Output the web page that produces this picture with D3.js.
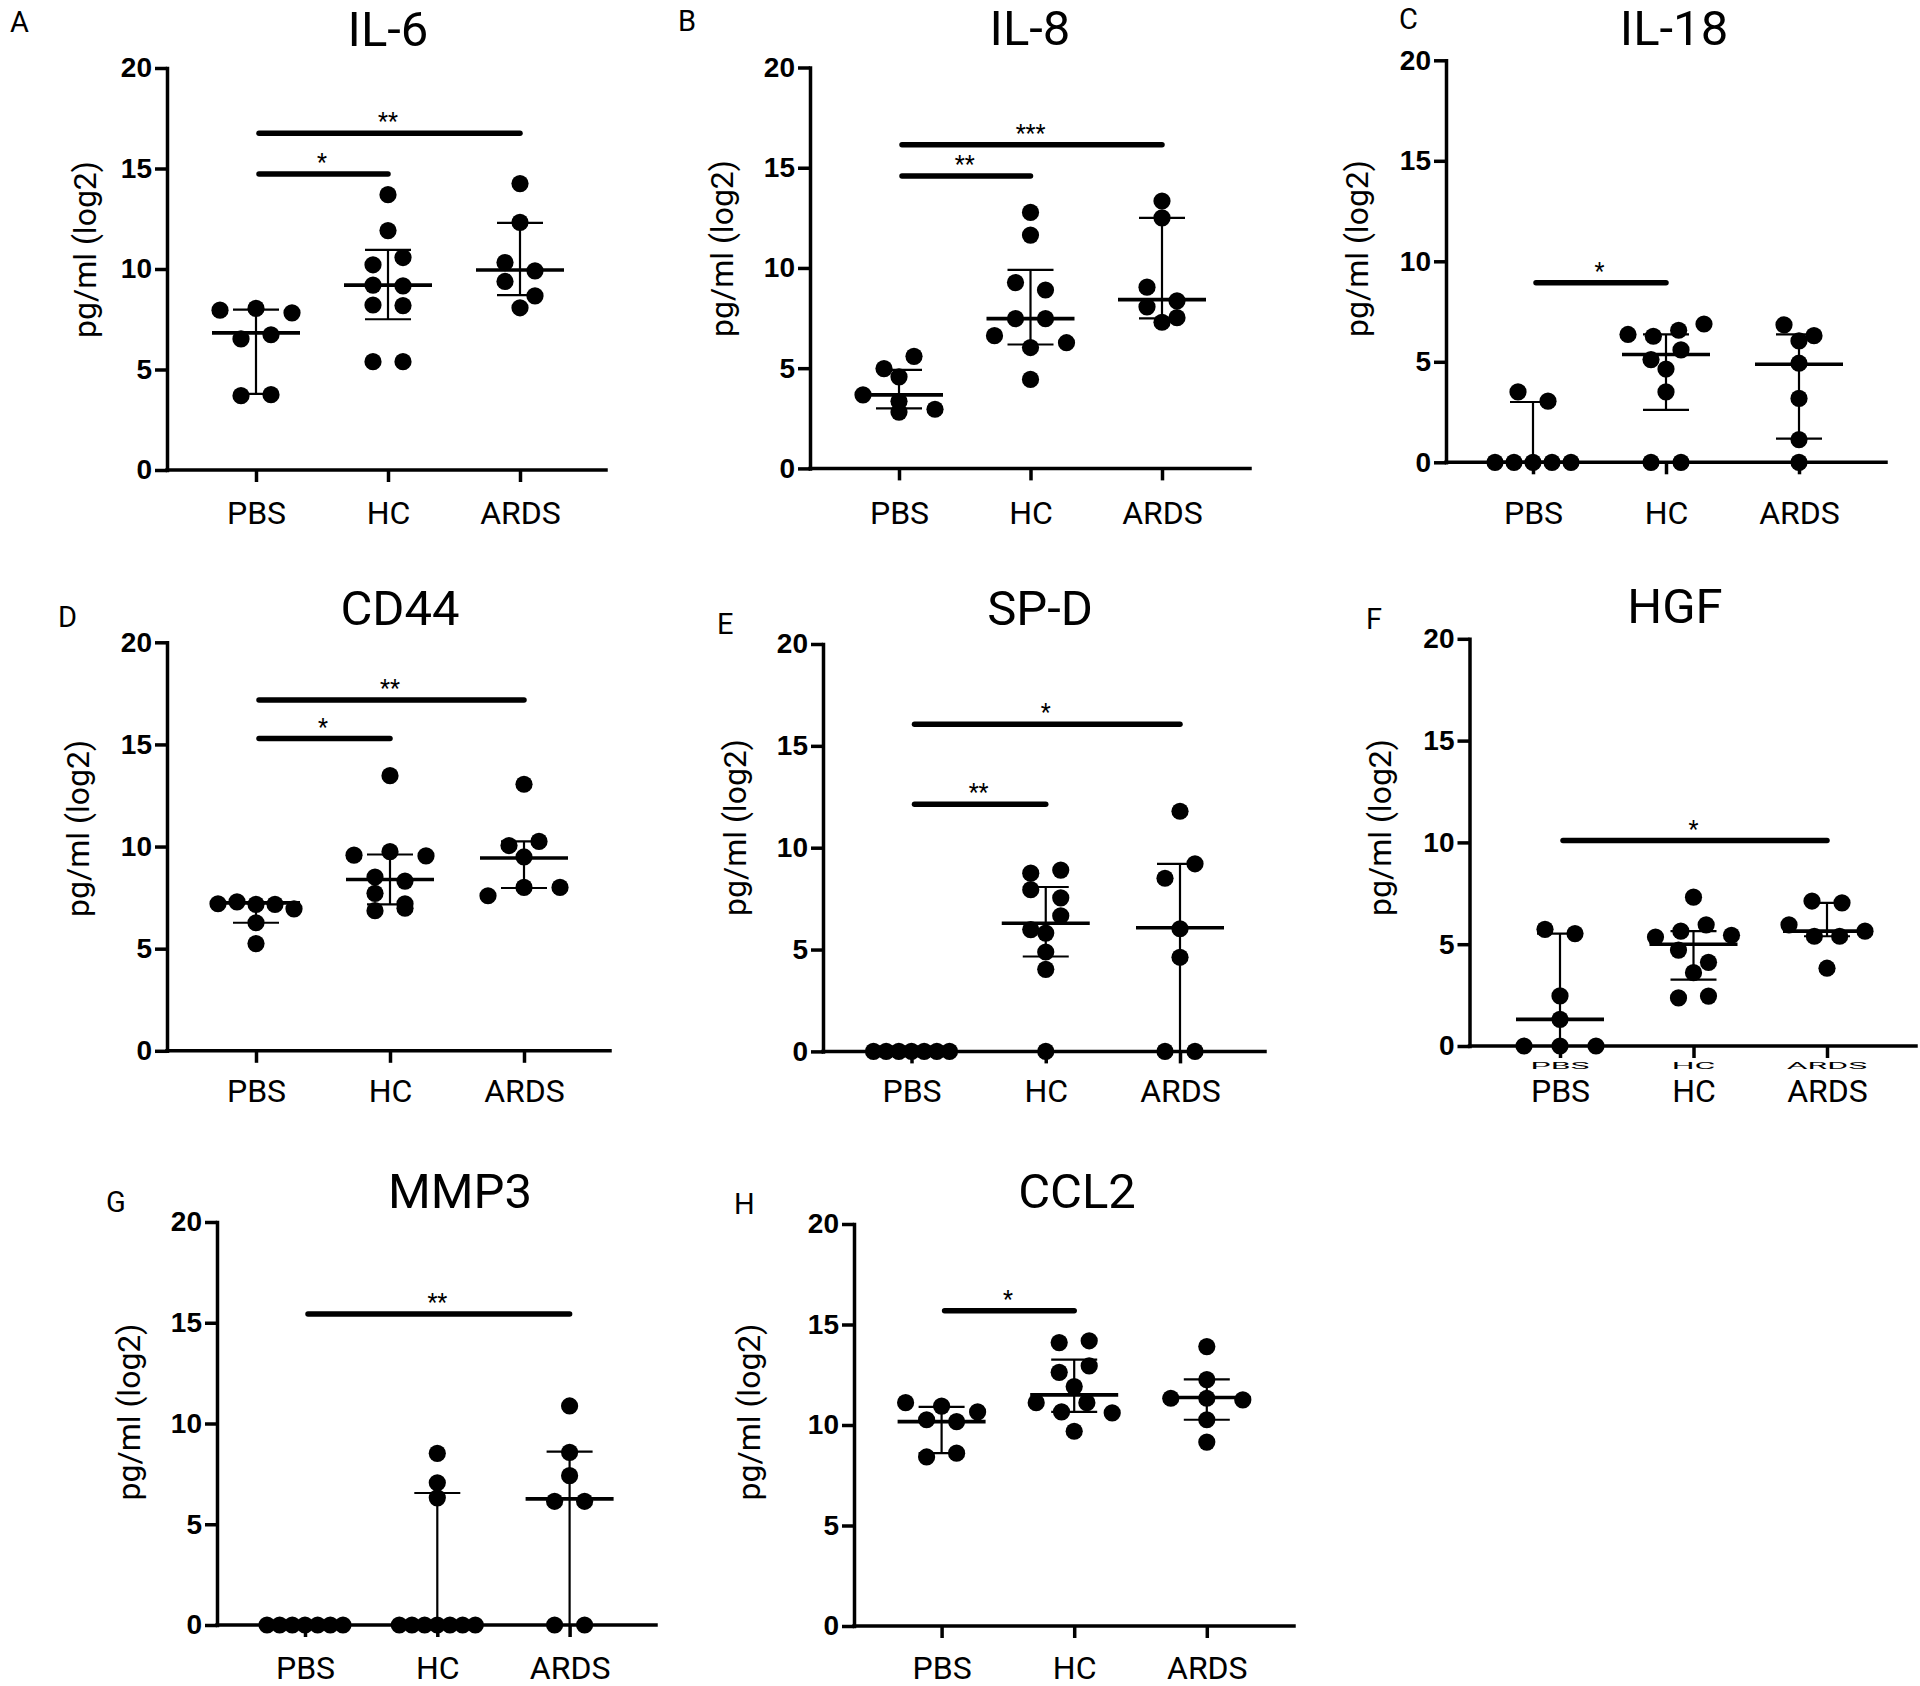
<!DOCTYPE html>
<html><head><meta charset="utf-8">
<script src="https://cdn.jsdelivr.net/npm/d3@7"></script>
<style>html,body{margin:0;padding:0;background:#fff;} svg{display:block;}</style>
</head><body>
<svg id="chart" width="1920" height="1686"></svg>
<script>
// ---------- data ----------
const categories = ["PBS", "HC", "ARDS"];
const yTickValues = [0, 5, 10, 15, 20];
const panelLetters = ["A", "B", "C", "D", "E", "F", "G", "H"];
const panelTitles = ["IL-6", "IL-8", "IL-18", "CD44", "SP-D", "HGF", "MMP3", "CCL2"];
const yAxisLabel = "pg/ml (log2)";

// IL-6
const il6PBS  = [7.95, 8.04, 7.82, 6.52, 6.73, 3.70, 3.75];
const il6HC   = [13.70, 11.91, 10.21, 10.57, 9.20, 9.16, 8.21, 8.18, 5.39, 5.39];
const il6ARDS = [14.25, 12.32, 10.32, 9.91, 9.38, 8.66, 8.07];
const il6Median = [6.82, 9.20, 9.95];
const il6Q1     = [3.79, 7.50, 8.70];
const il6Q3     = [7.98, 10.95, 12.29];
const il6Sig = [["PBS", "HC", 14.73, "*"], ["PBS", "ARDS", 16.75, "**"]];

// IL-8
const il8PBS  = [4.98, 5.59, 4.57, 3.67, 3.35, 2.95, 2.81];
const il8HC   = [12.77, 11.64, 9.27, 8.90, 7.47, 7.47, 6.62, 6.03, 6.27, 4.44];
const il8ARDS = [13.34, 12.50, 9.04, 8.36, 8.06, 7.52, 7.29];
const il8Median = [3.67, 7.47, 8.42];
const il8Q1     = [2.99, 6.18, 7.48];
const il8Q3     = [4.92, 9.90, 12.50];
const il8Sig = [["PBS", "HC", 14.59, "**"], ["PBS", "ARDS", 16.15, "***"]];

// IL-18
const il18PBS  = [3.50, 3.04, 0, 0, 0, 0, 0];
const il18HC   = [6.36, 6.27, 6.57, 6.88, 5.11, 5.59, 4.64, 3.50, 0, 0];
const il18ARDS = [6.84, 6.04, 6.30, 4.93, 3.18, 1.13, 0];
const il18Median = [0, 5.36, 4.88];
const il18Q1     = [0, 2.61, 1.18];
const il18Q3     = [3.00, 6.36, 6.36];
const il18Sig = [["PBS", "HC", 8.93, "*"]];

// CD44
const cd44PBS  = [7.20, 7.29, 7.17, 7.17, 6.95, 6.27, 5.25];
const cd44HC   = [13.47, 9.58, 9.75, 9.54, 8.51, 8.31, 7.71, 7.20, 6.86, 6.98];
const cd44ARDS = [13.05, 10.05, 10.25, 9.49, 7.59, 8.00, 8.00];
const cd44Median = [7.24, 8.39, 9.44];
const cd44Q1     = [6.27, 7.17, 7.97];
const cd44Q3     = [7.25, 9.61, 10.25];
const cd44Sig = [["PBS", "HC", 15.29, "*"], ["PBS", "ARDS", 17.17, "**"]];

// SP-D
const spdPBS  = [0, 0, 0, 0, 0, 0, 0];
const spdHC   = [8.75, 8.90, 7.94, 7.54, 5.98, 6.66, 5.81, 4.88, 4.03, 0];
const spdARDS = [11.79, 8.50, 9.21, 6.02, 4.62, 0, 0];
const spdMedian = [0, 6.29, 6.07];
const spdQ1     = [0, 4.66, 0];
const spdQ3     = [0, 8.07, 9.21];
const spdSig = [["PBS", "HC", 12.13, "**"], ["PBS", "ARDS", 16.06, "*"]];

// HGF
const hgfPBS  = [5.73, 5.52, 2.46, 1.31, 0, 0, 0];
const hgfHC   = [7.31, 5.35, 5.64, 5.95, 5.44, 4.71, 4.11, 3.60, 2.36, 2.45];
const hgfARDS = [7.12, 7.03, 5.95, 5.39, 5.39, 5.64, 3.82];
const hgfMedian = [1.31, 5.00, 5.64];
const hgfQ1     = [0, 3.26, 5.39];
const hgfQ3     = [5.52, 5.64, 7.03];
const hgfSig = [["PBS", "ARDS", 10.09, "*"]];

// MMP3
const mmp3PBS  = [0, 0, 0, 0, 0, 0, 0];
const mmp3HC   = [8.52, 7.06, 6.31, 0, 0, 0, 0, 0, 0, 0];
const mmp3ARDS = [10.87, 8.57, 7.41, 6.14, 6.14, 0, 0];
const mmp3Median = [0, 0, 6.26];
const mmp3Q1     = [0, 0, 0];
const mmp3Q3     = [0, 6.55, 8.60];
const mmp3Sig = [["PBS", "ARDS", 15.43, "**"]];

// CCL2
const ccl2PBS  = [11.11, 10.94, 10.65, 10.26, 10.17, 8.41, 8.60];
const ccl2HC   = [14.10, 14.19, 12.62, 12.94, 11.91, 11.11, 10.65, 11.11, 10.60, 9.69];
const ccl2ARDS = [13.90, 12.26, 11.33, 11.33, 11.25, 10.26, 9.15];
const ccl2Median = [10.17, 11.50, 11.37];
const ccl2Q1     = [8.60, 10.65, 10.26];
const ccl2Q3     = [10.90, 13.25, 12.27];
const ccl2Sig = [["PBS", "HC", 15.68, "*"]];

const panelValues  = [[il6PBS, il6HC, il6ARDS], [il8PBS, il8HC, il8ARDS], [il18PBS, il18HC, il18ARDS],
                      [cd44PBS, cd44HC, cd44ARDS], [spdPBS, spdHC, spdARDS], [hgfPBS, hgfHC, hgfARDS],
                      [mmp3PBS, mmp3HC, mmp3ARDS], [ccl2PBS, ccl2HC, ccl2ARDS]];
const panelMedians = [il6Median, il8Median, il18Median, cd44Median, spdMedian, hgfMedian, mmp3Median, ccl2Median];
const panelQ1      = [il6Q1, il8Q1, il18Q1, cd44Q1, spdQ1, hgfQ1, mmp3Q1, ccl2Q1];
const panelQ3      = [il6Q3, il8Q3, il18Q3, cd44Q3, spdQ3, hgfQ3, mmp3Q3, ccl2Q3];
const panelSig     = [il6Sig, il8Sig, il18Sig, cd44Sig, spdSig, hgfSig, mmp3Sig, ccl2Sig];

// ---------- layout (positions only) ----------
const layout = [
  {axisX:167,  y20:68,    y0:470,    c0:256,   c2:520,   right:606,  titleX:388,  titleY:46,   letterX:10,   letterY:32,   ylabX:86,    ylabY:249.5, catY:524},
  {axisX:810,  y20:67.5,  y0:468.4,  c0:899,   c2:1162,  right:1250, titleX:1030, titleY:45,   letterX:678,  letterY:30.5, ylabX:723.5, ylabY:248.5, catY:524},
  {axisX:1446, y20:60.3,  y0:462.3,  c0:1533,  c2:1799,  right:1886, titleX:1674, titleY:45,   letterX:1399, letterY:29,   ylabX:1358,  ylabY:248.5, catY:524},
  {axisX:167,  y20:642.3, y0:1050.8, c0:256,   c2:524,   right:610,  titleX:400,  titleY:625,  letterX:58,   letterY:627,  ylabX:79.5,  ylabY:828.4, catY:1102},
  {axisX:823,  y20:644,   y0:1051.4, c0:911.5, c2:1180,  right:1265, titleX:1040, titleY:625,  letterX:717,  letterY:634,  ylabX:736,   ylabY:827.5, catY:1102},
  {axisX:1469.5,y20:638.8,y0:1046,   c0:1560,  c2:1827,  right:1916, titleX:1675, titleY:623,  letterX:1366, letterY:628.5,ylabX:1381.5,ylabY:827.5, catY:1102, ghostY:1069},
  {axisX:217,  y20:1222,  y0:1625,   c0:305,   c2:569.6, right:656,  titleX:460,  titleY:1208, letterX:106,  letterY:1212, ylabX:130,   ylabY:1412,  catY:1679},
  {axisX:854,  y20:1224,  y0:1626,   c0:941.6, c2:1206.8,right:1294, titleX:1077, titleY:1208, letterX:734,  letterY:1214, ylabX:750.7, ylabY:1412,  catY:1679}
];

const R = 8.6;
const FONT = "Roboto, 'Open Sans', sans-serif";
const TICKFONT = "'Liberation Sans', Arial, sans-serif";

function swarmOffsets(values, y) {
  const idx = values.map((v, i) => i).sort((a, b) => (values[b] - values[a]) || (a - b));
  const thr = 2 * R * 0.86;
  const rows = [];
  let cur = null;
  idx.forEach(i => {
    const py = y(values[i]);
    if (cur && Math.abs(py - cur.start) < thr) cur.items.push(i);
    else { cur = {start: py, items: [i]}; rows.push(cur); }
  });
  const offs = new Array(values.length).fill(0);
  rows.forEach(row => {
    row.items.sort((a, b) => a - b);
    const n = row.items.length;
    const sp = n === 2 ? 30 : Math.min(36, 76 / Math.max(1, n - 1));
    row.items.forEach((i, k) => { offs[i] = (k - (n - 1) / 2) * sp; });
  });
  return offs;
}

const svg = d3.select("#chart");
svg.append("rect").attr("width", 1920).attr("height", 1686).attr("fill", "#fff");

layout.forEach((L, p) => {
  const g = svg.append("g");
  const x = d3.scalePoint().domain(categories).range([L.c0, L.c2]);
  const y = d3.scaleLinear().domain([0, 20]).range([L.y0, L.y20]);

  // title & letter
  g.append("text").attr("x", L.titleX).attr("y", L.titleY).attr("text-anchor", "middle")
    .style("font-family", FONT).style("font-size", "49px").attr("fill", "#000").text(panelTitles[p]);
  g.append("text").attr("x", L.letterX).attr("y", L.letterY)
    .style("font-family", FONT).style("font-size", "29px").attr("fill", "#000").text(panelLetters[p]);

  // y label
  g.append("text").attr("transform", `translate(${L.ylabX},${L.ylabY}) rotate(-90)`)
    .attr("text-anchor", "middle").attr("dy", "0.3em")
    .style("font-family", FONT).style("font-size", "32px").attr("fill", "#000").text(yAxisLabel);

  // y axis
  const ya = g.append("g").attr("transform", `translate(${L.axisX},0)`)
    .call(d3.axisLeft(y).tickValues(yTickValues).tickSize(12).tickSizeOuter(0).tickPadding(3));
  ya.select(".domain").attr("stroke", "#000").attr("stroke-width", 3.5).attr("stroke-linecap", "square");
  ya.selectAll(".tick line").attr("stroke", "#000").attr("stroke-width", 3.5);
  ya.selectAll(".tick text").style("font-family", TICKFONT).style("font-size", "28px")
    .style("font-weight", "bold").attr("fill", "#000");

  // x axis
  const xa = g.append("g").attr("transform", `translate(0,${L.y0})`)
    .call(d3.axisBottom(x).tickSize(12).tickSizeOuter(0));
  xa.select(".domain").remove();
  xa.selectAll(".tick line").attr("stroke", "#000").attr("stroke-width", 3.5);
  xa.selectAll(".tick text").attr("y", L.catY - L.y0).attr("dy", null)
    .style("font-family", FONT).style("font-size", "32px").attr("fill", "#000");
  g.append("line").attr("x1", L.axisX).attr("x2", L.right).attr("y1", L.y0).attr("y2", L.y0)
    .attr("stroke", "#000").attr("stroke-width", 3.5).attr("stroke-linecap", "square");

  // faint duplicate label tops (squashed) seen in the reference panel
  if (L.ghostY) {
    g.append("g").selectAll("text").data(categories).join("text")
      .attr("transform", d => `translate(${x(d)},${L.ghostY}) scale(1,0.26)`)
      .attr("text-anchor", "middle")
      .style("font-family", FONT).style("font-size", "32px").attr("fill", "#000").text(d => d);
  }

  // dots
  categories.forEach((c, ci) => {
    const vals = panelValues[p][ci];
    const offs = swarmOffsets(vals, y);
    g.append("g").selectAll("circle").data(vals).join("circle")
      .attr("cx", (d, i) => x(c) + offs[i]).attr("cy", d => y(d)).attr("r", R).attr("fill", "#000");
  });

  // median + IQR
  categories.forEach((c, ci) => {
    const cx = x(c);
    const q1 = panelQ1[p][ci], q3 = panelQ3[p][ci], med = panelMedians[p][ci];
    const eb = g.append("g").attr("stroke", "#000");
    eb.append("line").attr("x1", cx).attr("x2", cx).attr("y1", y(q1)).attr("y2", y(q3)).attr("stroke-width", 2.2);
    [q1, q3].forEach(q => {
      eb.append("line").attr("x1", cx - 23).attr("x2", cx + 23).attr("y1", y(q)).attr("y2", y(q)).attr("stroke-width", 2.2);
    });
    eb.append("line").attr("x1", cx - 44).attr("x2", cx + 44).attr("y1", y(med)).attr("y2", y(med)).attr("stroke-width", 3.6);
  });

  // significance bars
  panelSig[p].forEach(([from, to, v, lab]) => {
    const x1 = x(from), x2 = x(to), yy = y(v);
    g.append("line").attr("x1", x1 + 3).attr("x2", x2).attr("y1", yy).attr("y2", yy)
      .attr("stroke", "#000").attr("stroke-width", 5.5).attr("stroke-linecap", "round");
    g.append("text").attr("x", (x1 + x2) / 2).attr("y", yy - 4).attr("text-anchor", "middle")
      .style("font-family", FONT).style("font-size", "23px").attr("fill", "#000").text(lab);
  });
});
</script>
</body></html>
